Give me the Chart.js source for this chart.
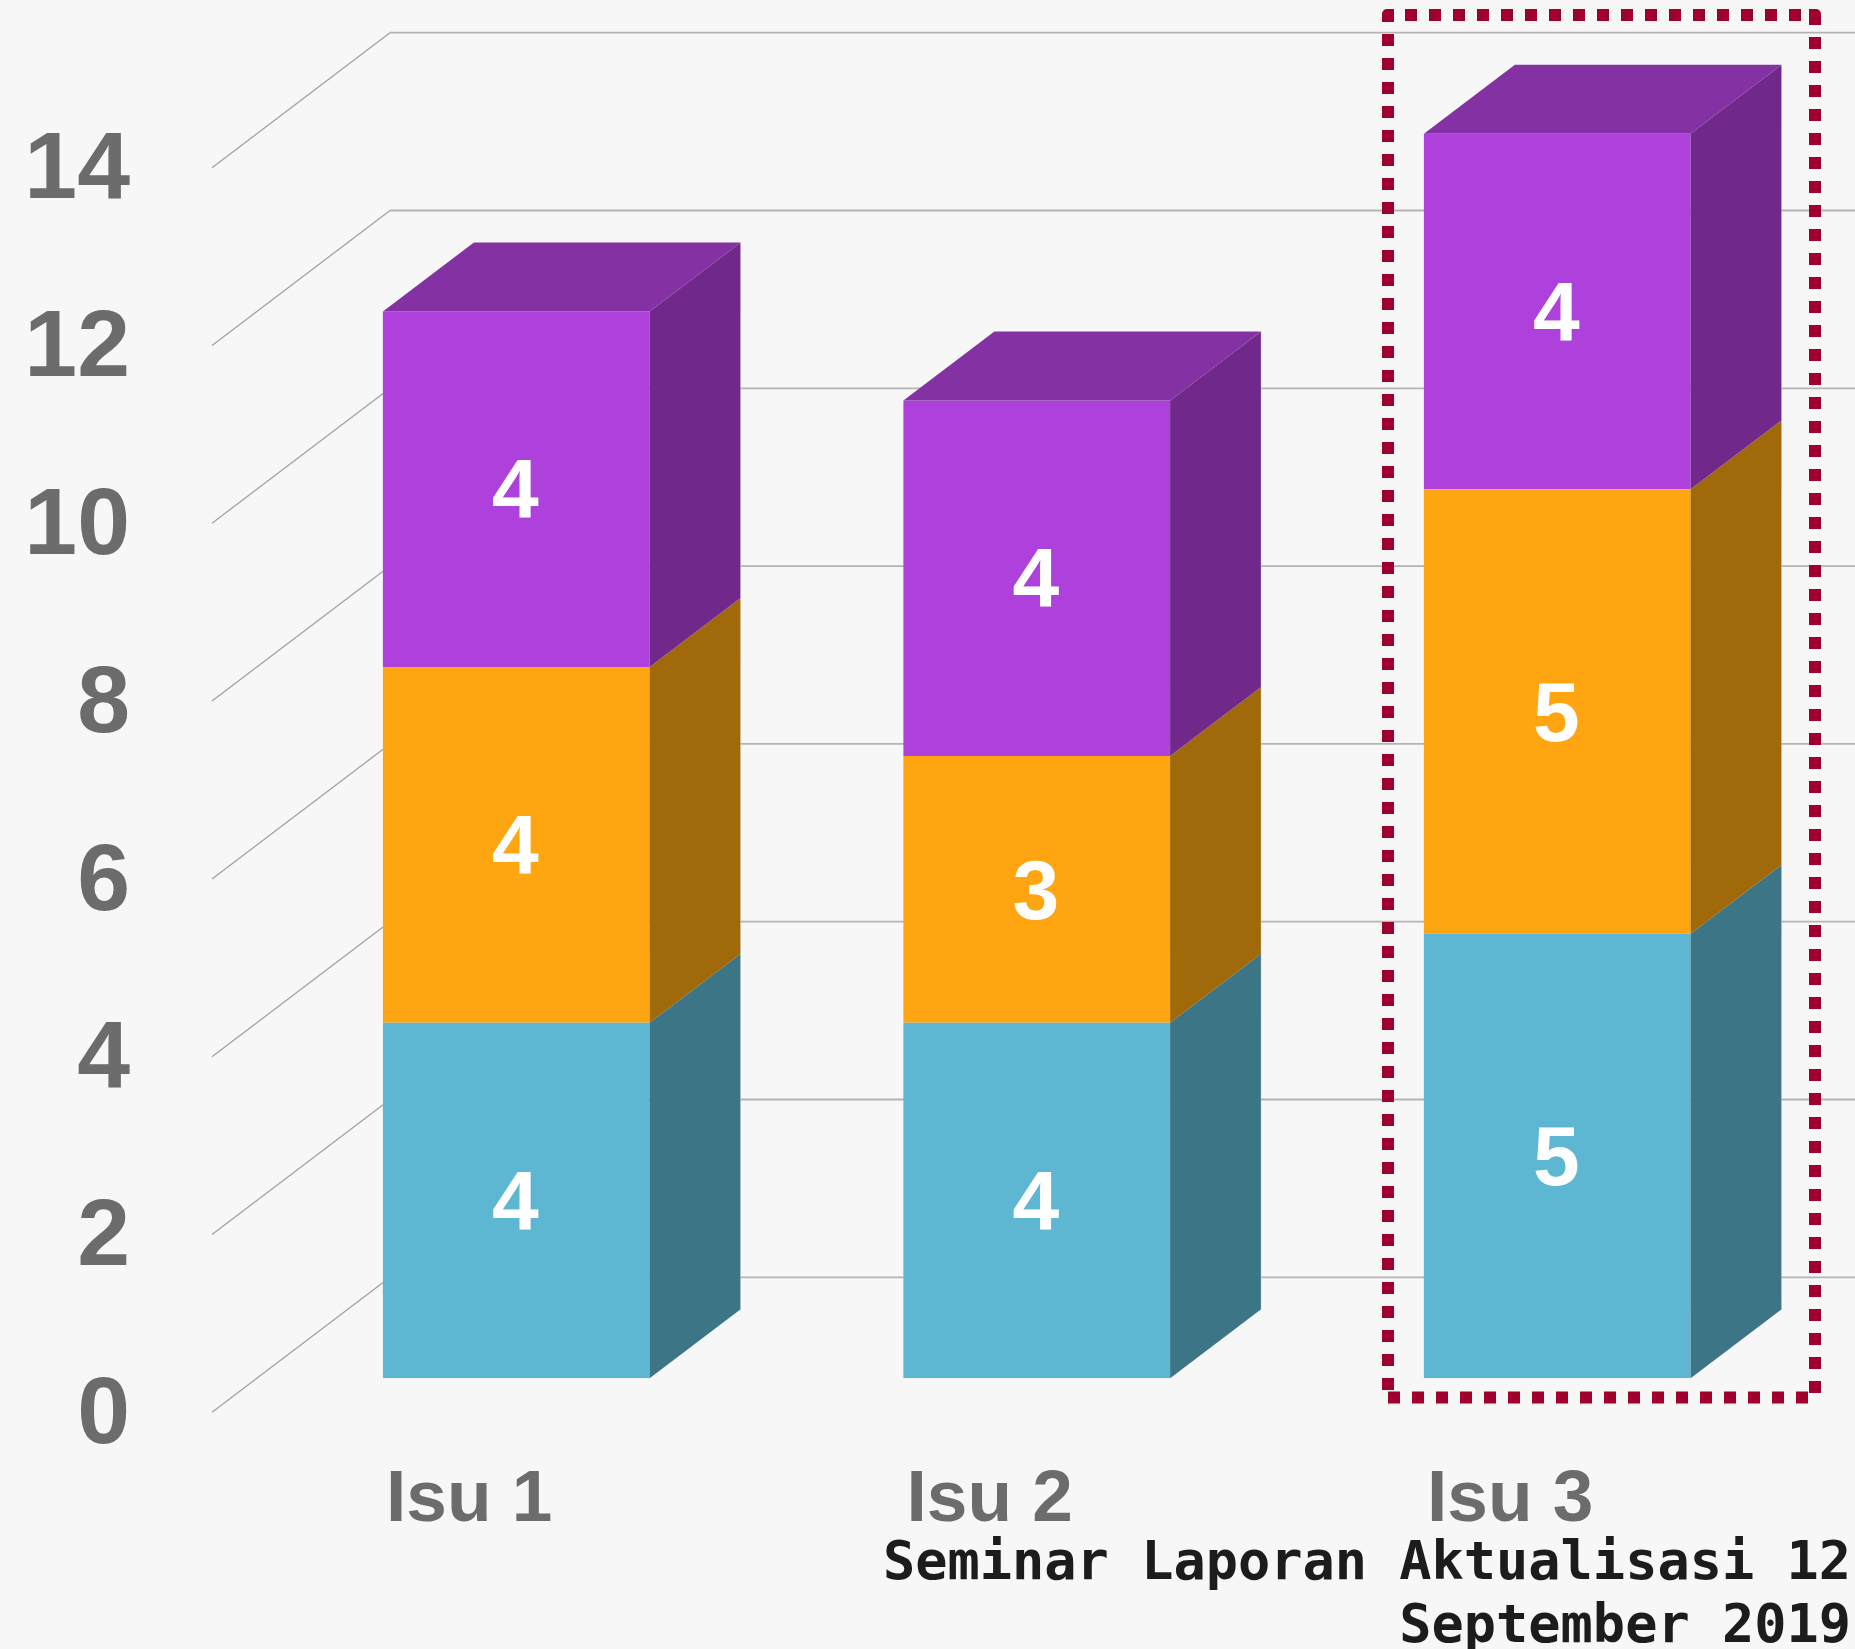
<!DOCTYPE html>
<html>
<head>
<meta charset="utf-8">
<title>Seminar Laporan Aktualisasi</title>
<script src="https://cdn.jsdelivr.net/npm/chart.js@4"></script>
<style>
    html, body { margin: 0; padding: 0; background: #f7f7f7; }
    canvas { display: block; }
</style>
</head>
<body>
<canvas id="chart" width="1855" height="1649"></canvas>
<script>
const categories = ['Isu 1', 'Isu 2', 'Isu 3'];
const seriesBlue = [4, 4, 5];
const seriesOrange = [4, 3, 5];
const seriesPurple = [4, 4, 4];
const seriesNames = ['Seri 1', 'Seri 2', 'Seri 3'];

const frontColors = ['#5db7d2', '#ffa511', '#ae41dc'];
const sideColors = ['#3b7586', '#a0690a', '#70298b'];
const topColor = '#8331a3';
const footerLines = ['Seminar Laporan Aktualisasi 12', 'September 2019'];

// depth of the 3d box
const depthX = 91;
const depthY = 69;

const wallPlugin = {
    id: 'wall',
    beforeDatasetsDraw(chart) {
        const ctx = chart.ctx;
        const y = chart.scales.y;
        ctx.save();
        y.ticks.forEach(tick => {
            const py = y.getPixelForValue(tick.value);
            // diagonal piece on the left wall
            ctx.beginPath();
            ctx.strokeStyle = '#9f9f9f';
            ctx.lineWidth = 1.2;
            ctx.moveTo(212, py + 34);
            ctx.lineTo(390, py - 101);
            ctx.stroke();
            // back wall
            ctx.beginPath();
            ctx.strokeStyle = '#b4b4b4';
            ctx.lineWidth = 1.8;
            ctx.moveTo(390, py - 101);
            ctx.lineTo(1855, py - 101);
            ctx.stroke();
        });
        ctx.restore();
    }
};

const boxPlugin = {
    id: 'box',
    afterDatasetsDraw(chart) {
        const ctx = chart.ctx;
        ctx.save();
        chart.data.datasets.forEach((ds, i) => {
            const meta = chart.getDatasetMeta(i);
            meta.data.forEach(bar => {
                const right = bar.x + bar.width / 2;
                const left = bar.x - bar.width / 2;
                ctx.fillStyle = sideColors[i];
                ctx.beginPath();
                ctx.moveTo(right, bar.base);
                ctx.lineTo(right + depthX, bar.base - depthY);
                ctx.lineTo(right + depthX, bar.y - depthY);
                ctx.lineTo(right, bar.y);
                ctx.closePath();
                ctx.fill();
                if (i == chart.data.datasets.length - 1) {
                    ctx.fillStyle = topColor;
                    ctx.beginPath();
                    ctx.moveTo(left, bar.y);
                    ctx.lineTo(left + depthX, bar.y - depthY);
                    ctx.lineTo(right + depthX, bar.y - depthY);
                    ctx.lineTo(right, bar.y);
                    ctx.closePath();
                    ctx.fill();
                }
                // thin lighter outline on the outer edge
                ctx.strokeStyle = 'rgba(255,255,255,0.3)';
                ctx.lineWidth = 1;
                ctx.beginPath();
                ctx.moveTo(right + depthX, bar.base - depthY);
                ctx.lineTo(right + depthX, bar.y - depthY);
                ctx.stroke();
            });
        });
        // numbers on the bars
        ctx.fillStyle = '#ffffff';
        ctx.font = 'bold 84px "Liberation Sans"';
        ctx.textAlign = 'center';
        ctx.textBaseline = 'middle';
        chart.data.datasets.forEach((ds, i) => {
            chart.getDatasetMeta(i).data.forEach((bar, j) => {
                ctx.fillText(ds.data[j], bar.x - 1, (bar.y + bar.base) / 2 + 6);
            });
        });
        ctx.restore();
    }
};

function dashedLine(ctx, x1, y1, x2, y2) {
    ctx.beginPath();
    ctx.moveTo(x1, y1);
    ctx.lineTo(x2, y2);
    ctx.stroke();
}

const highlightPlugin = {
    id: 'highlight',
    afterDraw(chart) {
        const ctx = chart.ctx;
        ctx.save();
        ctx.strokeStyle = '#a0002e';
        ctx.fillStyle = '#a0002e';
        ctx.lineWidth = 12;
        ctx.setLineDash([12, 12]);
        dashedLine(ctx, 1405, 15, 1801, 15);
        dashedLine(ctx, 1388, 1397.5, 1808, 1397.5);
        dashedLine(ctx, 1388, 34, 1388, 1390);
        dashedLine(ctx, 1815, 37, 1815, 1393);
        ctx.setLineDash([]);
        ctx.beginPath();
        ctx.roundRect(1382, 9, 12, 13, [5, 0, 0, 0]);
        ctx.roundRect(1809, 9, 12, 16, [0, 5, 0, 0]);
        ctx.fill();

        ctx.fillStyle = '#1c1c1c';
        ctx.font = 'bold 53.6px "DejaVu Sans Mono"';
        ctx.textAlign = 'right';
        ctx.textBaseline = 'alphabetic';
        ctx.fillText(footerLines[0], 1851, 1579);
        ctx.fillText(footerLines[1], 1851, 1642);
        ctx.restore();
    }
};

new Chart(document.querySelector('#chart'), {
    type: 'bar',
    data: {
        labels: categories,
        datasets: [
            { label: seriesNames[0], data: seriesBlue, backgroundColor: frontColors[0] },
            { label: seriesNames[1], data: seriesOrange, backgroundColor: frontColors[1] },
            { label: seriesNames[2], data: seriesPurple, backgroundColor: frontColors[2] },
        ],
    },
    options: {
        responsive: false,
        animation: false,
        layout: { padding: { top: 133.7, right: 37.5, left: 0, bottom: 0 } },
        plugins: {
            legend: { display: false },
            tooltip: { enabled: false },
        },
        datasets: { bar: { barPercentage: 0.5124, categoryPercentage: 1 } },
        scales: {
            x: {
                stacked: true,
                grid: { display: false },
                border: { display: false },
                afterFit: scale => {
                    scale.height = 270.7;
                    scale.paddingLeft = 0;
                    scale.paddingRight = 0;
                },
                ticks: {
                    autoSkip: false,
                    maxRotation: 0,
                    padding: 70.5,
                    labelOffset: -47,
                    color: '#6c6c6c',
                    font: { family: '"Liberation Sans"', size: 73, weight: 'bold' },
                },
            },
            y: {
                stacked: true,
                min: 0,
                max: 14,
                grid: { display: false },
                border: { display: false },
                afterFit: scale => {
                    scale.width = 256;
                    scale.paddingTop = 0;
                    scale.paddingBottom = 0;
                },
                ticks: {
                    stepSize: 2,
                    padding: 118,
                    labelOffset: 38.5,
                    color: '#6c6c6c',
                    font: { family: '"Liberation Sans"', size: 95, weight: 'bold' },
                },
            },
        },
    },
    plugins: [wallPlugin, boxPlugin, highlightPlugin],
});
</script>
</body>
</html>
